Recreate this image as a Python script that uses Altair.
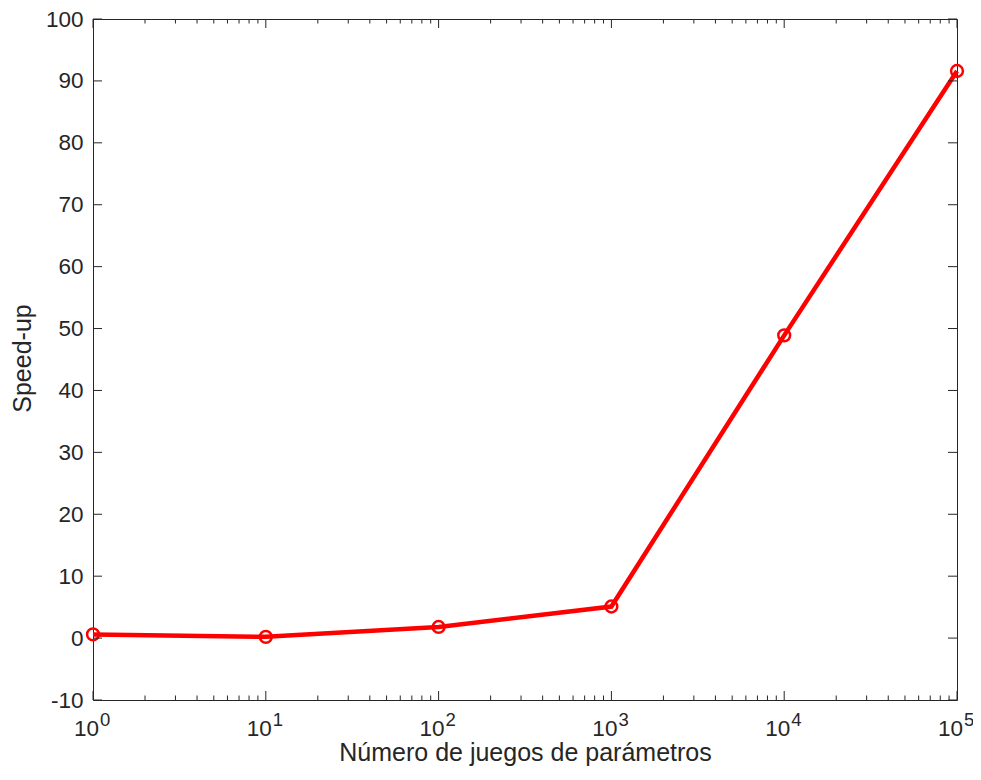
import altair as alt
import pandas as pd

# data
n_params = [1, 10, 100, 1000, 10000, 100000]
speedup = [0.6, 0.2, 1.8, 5.1, 48.9, 91.6]

x_major = [1, 10, 100, 1000, 10000, 100000]
x_exponents = ["0", "1", "2", "3", "4", "5"]
x_minor = [m * 10 ** k for k in range(5) for m in range(2, 10)]
y_ticks = list(range(-10, 101, 10))

W, H = 864, 681
FONT = "Liberation Sans"
INK = "#262626"
RED = "#ff0000"

xscale = alt.Scale(type="log", domain=[1, 100000], nice=False)
yscale = alt.Scale(domain=[-10, 100], nice=False, zero=False)

xaxis = alt.Axis(
    title="Número de juegos de parámetros", labels=False, ticks=False,
    domain=False, grid=False, titleFontSize=25, titleFontWeight="normal",
    titleColor=INK, titleFont=FONT, titleY=60, titleBaseline="alphabetic")
yaxis = alt.Axis(
    title="Speed-up", values=y_ticks, ticks=False, domain=False, grid=False,
    labelExpr="'' + datum.value",
    labelFontSize=22.5, labelColor=INK, labelFont=FONT, labelPadding=10,
    titleFontSize=25, titleFontWeight="normal", titleColor=INK, titleFont=FONT,
    titleX=-58, titleY=339, titleAngle=270, titleBaseline="bottom",
    titleAlign="center")

xenc = alt.X("x:Q", scale=xscale, axis=xaxis)
yenc = alt.Y("y:Q", scale=yscale, axis=yaxis)

df = pd.DataFrame({"x": n_params, "y": speedup})
xmaj = pd.DataFrame({"x": x_major, "e": x_exponents})
xmin = pd.DataFrame({"x": x_minor})
yt = pd.DataFrame({"y": y_ticks})

line = alt.Chart(df).mark_line(color=RED, strokeWidth=4.5).encode(x=xenc, y=yenc)

points = alt.Chart(df).mark_point(shape="circle", filled=False, color=RED,
                                  size=140, strokeWidth=2.5, opacity=1).encode(
    x=xenc, y=yenc)

bot_major = alt.Chart(xmaj).mark_rule(color=INK, strokeWidth=1).encode(
    x=xenc, y=alt.value(H), y2=alt.value(H - 9))
top_major = alt.Chart(xmaj).mark_rule(color=INK, strokeWidth=1).encode(
    x=xenc, y=alt.value(0), y2=alt.value(9))
bot_minor = alt.Chart(xmin).mark_rule(color=INK, strokeWidth=1).encode(
    x=xenc, y=alt.value(H), y2=alt.value(H - 4.5))
top_minor = alt.Chart(xmin).mark_rule(color=INK, strokeWidth=1).encode(
    x=xenc, y=alt.value(0), y2=alt.value(4.5))
left_ticks = alt.Chart(yt).mark_rule(color=INK, strokeWidth=1).encode(
    y=yenc, x=alt.value(0), x2=alt.value(9))
right_ticks = alt.Chart(yt).mark_rule(color=INK, strokeWidth=1).encode(
    y=yenc, x=alt.value(W - 9), x2=alt.value(W))

base_lbl = alt.Chart(xmaj).mark_text(
    text="10", font=FONT, fontSize=22.5, color=INK, align="right",
    baseline="alphabetic", dx=6).encode(x=xenc, y=alt.value(H + 36))
exp_lbl = alt.Chart(xmaj).mark_text(
    font=FONT, fontSize=18.5, color=INK, align="left",
    baseline="alphabetic", dx=7).encode(x=xenc, y=alt.value(H + 26), text="e:N")

chart = alt.layer(
    line, points, bot_major, top_major, bot_minor, top_minor,
    left_ticks, right_ticks, base_lbl, exp_lbl
).properties(
    width=W, height=H,
    autosize=alt.AutoSizeParams(type="none"),
    padding={"left": 85, "top": 11, "right": 16, "bottom": 66},
    background="white",
).configure(
    font=FONT,
    view=alt.ViewConfig(stroke=INK, strokeWidth=1),
)

chart.save("out.html", embed_options={"renderer": "svg", "actions": False})
